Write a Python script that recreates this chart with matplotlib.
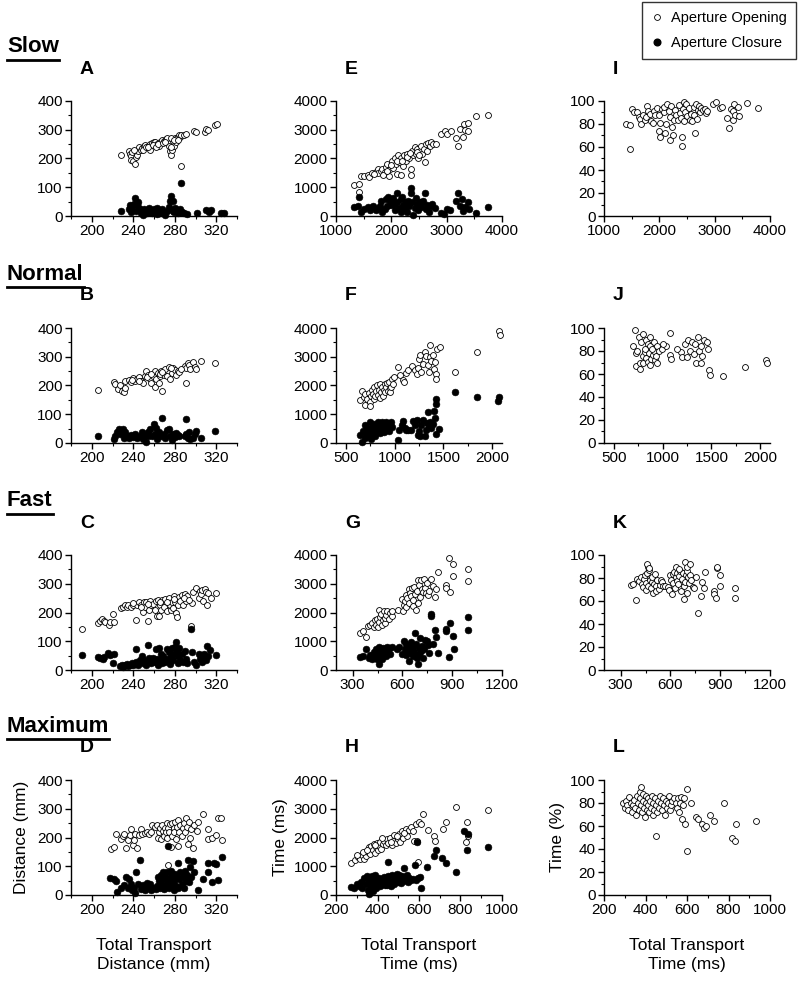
"""Aperture opening/closure vs total transport, four speed conditions."""

import matplotlib

matplotlib.use("Agg")
import matplotlib.pyplot as plt  # noqa: E402
import numpy as np  # noqa: E402
from matplotlib.lines import Line2D  # noqa: E402
from matplotlib.ticker import MultipleLocator  # noqa: E402

plt.rcParams["font.family"] = ["Liberation Sans", "DejaVu Sans"]

conditions = ["Slow", "Normal", "Fast", "Maximum"]
panel_letters = [["A", "B", "C", "D"], ["E", "F", "G", "H"], ["I", "J", "K", "L"]]

# ---- column 1: distance (mm) vs total transport distance (mm) ----
slow_dist_open = [
    (228, 213), (235.5, 227), (236.5, 217), (238, 208), (238, 196), (240, 192), (242, 182),
    (243, 206), (244, 213), (245, 225), (246, 240), (247, 230), (248, 238), (250, 244),
    (251, 247), (254, 244), (256, 249), (256, 230), (258, 254), (260, 259), (261, 257),
    (263, 251), (265, 244), (266, 259), (268, 266), (270, 262), (272, 268), (273, 270),
    (274, 244), (275, 225), (276, 211), (277, 228), (278, 261), (279, 244), (280, 272),
    (281, 259), (282, 270), (284, 280), (285, 276), (286, 174), (286, 283), (289, 280),
    (291, 285), (299, 295), (300, 293), (309, 292), (310, 304), (312, 298), (319, 316),
    (321, 320), (239, 222), (241, 228), (249, 230), (252, 240), (254, 240), (259, 247),
    (262, 241), (264, 252), (269, 254), (271, 259), (276, 270), (279, 263), (283, 263),
    (276, 241),
]
slow_dist_close = [
    (228, 19), (235.5, 24), (236.5, 38), (238, 14), (239, 31), (240.5, 43), (242, 62),
    (243, 19), (244, 43), (246, 29), (247, 10), (248, 14), (250, 24), (251.5, 10), (253, 17),
    (255, 29), (256.5, 19), (258, 10), (260, 24), (261, 14), (263, 29), (264.5, 10),
    (266, 19), (268, 24), (269, 14), (271, 5), (272.5, 19), (274, 33), (275, 53), (276, 69),
    (278, 53), (279, 14), (280, 29), (282, 19), (283.5, 10), (286, 115), (285, 24),
    (287, 14), (289, 10), (291.5, 8), (301.5, 10), (310.5, 21), (313, 14), (315, 21),
    (324.5, 11), (327, 10), (245, 48), (253, 10), (266, 10), (278, 19), (249, 5), (263, 8),
]
normal_dist_open = [
    (206.5, 184), (221, 212), (222.5, 206), (225, 188), (227, 200), (229, 181), (231, 176),
    (232.5, 193), (232.5, 216), (236, 219), (237.5, 212), (240, 226), (241.5, 215),
    (243.5, 222), (246, 229), (247.5, 216), (249, 209), (251, 233), (252.5, 252), (254, 238),
    (256, 224), (257.5, 209), (259, 233), (260.5, 252), (261, 195), (262, 224), (264, 243),
    (264.5, 209), (265.5, 233), (267, 252), (268, 181), (269.5, 238), (271, 257), (273, 233),
    (274, 266), (275, 224), (277, 245), (278.5, 262), (280, 255), (281.5, 238), (283, 252),
    (284.5, 247), (289.5, 269), (290.5, 207), (291, 262), (292.5, 279), (293.5, 273),
    (294.5, 257), (297.5, 283), (299.5, 266), (300.5, 259), (305.5, 286), (319, 278),
    (239, 219), (246, 216), (253, 228), (257, 240), (266, 241), (268, 247), (276, 260),
    (286, 257),
]
normal_dist_close = [
    (206.5, 24), (221, 14), (222.5, 26), (224, 38), (226, 48), (227.5, 33), (230, 50),
    (231, 19), (232.5, 38), (234, 24), (236, 16), (238, 29), (240, 22), (242, 33), (244, 19),
    (246.5, 26), (248, 38), (249.5, 14), (251, 29), (252, 3), (254, 24), (254.5, 38),
    (256.5, 48), (258, 26), (260, 67), (261, 31), (262, 52), (263, 14), (264.5, 38),
    (266.5, 24), (268, 88), (269.5, 31), (271, 16), (273, 45), (274, 50), (275, 24),
    (277, 10), (278.5, 33), (280, 22), (281.5, 35), (283, 29), (284.5, 26), (289.5, 24),
    (290.5, 83), (291, 33), (292.5, 19), (293.5, 38), (294.5, 14), (297.5, 16), (299.5, 33),
    (300.5, 43), (305.5, 19), (319, 40),
]
fast_dist_open = [
    (191, 141), (206, 165), (208, 170), (210, 179), (212, 172), (213, 168), (216.5, 158),
    (218, 168), (220, 194), (221, 168), (228, 216), (230.5, 218), (232, 225), (233.5, 220),
    (235, 225), (237.5, 220), (239.5, 227), (242.5, 174), (244, 225), (246, 235), (247, 227),
    (249, 201), (250, 237), (251.5, 220), (252.5, 237), (254, 170), (255, 208), (256.5, 240),
    (257, 225), (259, 230), (260.5, 208), (261.5, 240), (262.5, 189), (264, 243), (265, 189),
    (266, 227), (267, 208), (268, 244), (270, 220), (270.5, 246), (272.5, 206), (274, 252),
    (275, 225), (276, 208), (277, 237), (278, 217), (279.5, 259), (280, 235), (281, 198),
    (282, 185), (283.5, 225), (284, 254), (285.5, 239), (287, 262), (288, 227), (290, 265),
    (291, 239), (292, 259), (296, 153), (296.5, 233), (297.5, 273), (300.5, 284),
    (303.5, 252), (304.5, 276), (305, 265), (306, 278), (307, 239), (309, 281), (310, 273),
    (311, 227), (312, 268), (314.5, 249), (320, 268), (240, 232), (247, 220), (254, 230),
    (266, 237), (273, 237), (279, 246), (289, 249), (294, 244),
]
fast_dist_close = [
    (191, 51), (206, 45), (208, 43), (210.5, 38), (212, 45), (215.5, 60), (218, 53),
    (220, 26), (221.5, 55), (227.5, 14), (229, 19), (230.5, 12), (232, 16), (233.5, 22),
    (235, 14), (237, 19), (238.5, 24), (240, 16), (242.5, 72), (243, 29), (245, 19),
    (246.5, 35), (248, 48), (249, 24), (250.5, 34), (252.5, 19), (254, 86), (255, 43),
    (256, 29), (257, 24), (259, 43), (260.5, 29), (261.5, 72), (262.5, 38), (264, 19),
    (265, 77), (266, 34), (267, 55), (268, 24), (269, 48), (270.5, 29), (272.5, 72),
    (273, 38), (274, 62), (275, 22), (276, 48), (277, 77), (278, 34), (279.5, 55), (280, 81),
    (281, 99), (282, 62), (283, 24), (283.5, 48), (284, 77), (285.5, 34), (287, 55),
    (288, 29), (289.5, 67), (291, 38), (292, 24), (296, 141), (296.5, 62), (298.5, 29),
    (300.5, 19), (303.5, 55), (304.5, 38), (306, 29), (307, 45), (308.5, 57), (310, 35),
    (311, 83), (312, 48), (314, 70), (320, 51),
]
max_dist_open = [
    (218.5, 161), (221.7, 167), (223.7, 213), (228, 194), (230, 204), (231.5, 213),
    (233, 165), (234.7, 192), (236.6, 209), (238, 228), (240, 173), (240.5, 190), (242, 213),
    (243.8, 163), (245.4, 209), (247, 228), (248.6, 213), (251, 215), (252.9, 219),
    (255, 212), (256.8, 219), (258.4, 242), (260.6, 237), (262.6, 244), (263.9, 199),
    (264.9, 219), (265.8, 234), (266.5, 194), (268, 244), (269, 223), (269.7, 206),
    (270.4, 234), (271.3, 219), (272.3, 252), (273, 200), (273.6, 234), (274.6, 219),
    (275.6, 247), (276.2, 168), (276.9, 206), (277.8, 252), (278.8, 233), (279.5, 219),
    (280.1, 254), (281, 196), (282, 237), (282.7, 169), (283.3, 260), (284.3, 219),
    (285.3, 242), (286.6, 206), (287.6, 233), (288.5, 250), (289.8, 219), (290.8, 269),
    (291.8, 237), (293, 177), (294, 254), (295, 199), (295.7, 228), (297.3, 165), (299, 244),
    (301.5, 223), (302.8, 254), (307, 282), (311.9, 196), (312.5, 228), (315.8, 199),
    (320, 209), (321.6, 269), (325.5, 192), (325, 267), (273.6, 103),
]
max_dist_close = [
    (217.8, 58), (221, 55), (223.7, 50), (224.3, 10), (228, 26), (231.5, 36), (233, 64),
    (234.7, 23), (235.7, 55), (238, 40), (239, 16), (240.5, 26), (242, 7), (243, 79),
    (244.4, 38), (246.4, 122), (247.7, 21), (249.6, 36), (251, 16), (252.9, 42), (254.2, 31),
    (256.1, 38), (257.4, 16), (259.3, 26), (261.6, 21), (263.2, 33), (263.9, 64),
    (264.9, 50), (265.8, 26), (266.5, 69), (267.1, 40), (268, 55), (269, 79), (269.7, 21),
    (270.4, 64), (271.3, 36), (272.3, 79), (273, 50), (273.6, 170), (274.6, 26), (275.6, 60),
    (276.2, 84), (276.9, 40), (277.8, 69), (278.8, 16), (279.5, 50), (280.1, 74), (281, 33),
    (282, 64), (282.7, 112), (283.3, 26), (284.3, 55), (285.3, 79), (286.6, 40), (287.6, 64),
    (288.5, 26), (289.8, 84), (290.8, 50), (291.8, 69), (293, 122), (294, 45), (295, 98),
    (295.7, 64), (297.3, 117), (299, 79), (302.2, 19), (307, 55), (311.9, 79), (312.5, 110),
    (315.8, 45), (317.7, 110), (320, 108), (321.6, 52), (325.5, 132),
]

# ---- column 2: time (ms) vs total transport time (ms) ----
slow_time_open = [
    (1330, 1083), (1408, 1130), (1408, 843), (1450, 1389), (1510, 1389), (1570, 1418),
    (1600, 1341), (1642, 1485), (1720, 1533), (1750, 1648), (1762, 1485), (1810, 1581),
    (1840, 1648), (1882, 1533), (1900, 1705), (1930, 1801), (1960, 1389), (1978, 1629),
    (2020, 1916), (2038, 1677), (2062, 2012), (2080, 1801), (2110, 1456), (2122, 2107),
    (2140, 1868), (2170, 1418), (2182, 2012), (2218, 1725), (2230, 2107), (2260, 1916),
    (2290, 2155), (2320, 2012), (2350, 1629), (2362, 1437), (2380, 2251), (2398, 2107),
    (2422, 2395), (2440, 2155), (2470, 2347), (2482, 2012), (2518, 2251), (2542, 2443),
    (2560, 2155), (2590, 2347), (2608, 1868), (2620, 2510), (2650, 2251), (2662, 2539),
    (2698, 2443), (2722, 2587), (2758, 2491), (2800, 2510), (2902, 2845), (2968, 2970),
    (3010, 2855), (3070, 2941), (3160, 2730), (3208, 2443), (3250, 3018), (3292, 2759),
    (3310, 3209), (3340, 2989), (3382, 3228), (3388, 2970), (3532, 3477), (3742, 3516),
    (1678, 1456), (1858, 1418), (1918, 1581), (2002, 1772), (2098, 1916), (2200, 1916),
    (2278, 2060), (2338, 2203), (2458, 2232), (2500, 2107),
]
slow_time_close = [
    (1318, 307), (1402, 335), (1408, 651), (1450, 144), (1510, 240), (1570, 307),
    (1618, 192), (1660, 364), (1720, 192), (1750, 287), (1798, 364), (1840, 144), (1882, 240),
    (1918, 364), (1942, 671), (1978, 527), (2002, 383), (2038, 623), (2062, 192), (2098, 786),
    (2110, 479), (2140, 287), (2170, 144), (2182, 575), (2218, 383), (2242, 240), (2260, 479),
    (2290, 144), (2320, 335), (2350, 977), (2362, 814), (2380, 479), (2398, 48), (2422, 287),
    (2458, 431), (2482, 192), (2518, 479), (2542, 307), (2578, 527), (2608, 814), (2620, 240),
    (2650, 383), (2680, 144), (2710, 335), (2740, 431), (2782, 287), (2890, 115), (2950, 77),
    (3010, 240), (3058, 211), (3160, 527), (3208, 814), (3250, 335), (3280, 594), (3298, 163),
    (3340, 307), (3382, 498), (3400, 259), (3532, 115), (3742, 307), (1810, 527), (1900, 575),
    (2050, 431), (2200, 671), (2302, 527), (2440, 623), (2560, 479),
]
normal_time_open = [
    (645, 1495), (669, 1809), (685, 1590), (702, 1333), (702, 1714), (719, 1523), (736, 1752),
    (746, 1428), (753, 1285), (760, 1619), (770, 1857), (780, 1714), (786, 1523), (793, 1952),
    (803, 1619), (813, 1809), (820, 2000), (827, 1666), (837, 1857), (847, 1571), (854, 2066),
    (864, 1762), (871, 1952), (881, 1619), (888, 1857), (898, 2047), (904, 1762), (915, 1952),
    (921, 2095), (928, 1809), (938, 2123), (948, 1905), (955, 1762), (962, 1952), (972, 2218),
    (982, 2066), (995, 2304), (1032, 2647), (1056, 2380), (1083, 2190), (1096, 2123),
    (1117, 2428), (1140, 2542), (1174, 2666), (1208, 2542), (1225, 2409), (1241, 2619),
    (1251, 2923), (1265, 3046), (1275, 2476), (1292, 2733), (1309, 3180), (1319, 3018),
    (1343, 2714), (1353, 2476), (1366, 2999), (1376, 2857), (1393, 3075), (1400, 2571),
    (1410, 2828), (1420, 2409), (1427, 2237), (1437, 3256), (1622, 2476), (1848, 3170),
    (1360, 3400), (1460, 3330), (2070, 3880), (2078, 3760),
]
normal_time_close = [
    (645, 286), (669, 29), (679, 428), (692, 190), (702, 638), (712, 333), (719, 523),
    (736, 238), (746, 714), (753, 428), (760, 143), (770, 571), (780, 333), (786, 666),
    (793, 476), (803, 238), (813, 619), (820, 381), (827, 733), (837, 523), (847, 333),
    (854, 638), (864, 447), (871, 733), (881, 571), (888, 381), (898, 666), (904, 523),
    (915, 733), (928, 600), (938, 428), (948, 666), (962, 733), (972, 571), (1032, 114),
    (1049, 447), (1073, 638), (1090, 762), (1107, 523), (1117, 447), (1140, 447),
    (1164, 447), (1191, 762), (1208, 619), (1225, 809), (1241, 286), (1251, 409), (1265, 257),
    (1275, 638), (1292, 790), (1309, 257), (1319, 447), (1332, 695), (1343, 1076), (1353, 571),
    (1366, 733), (1376, 523), (1393, 666), (1403, 1114), (1410, 885), (1420, 1514), (1420, 314),
    (1427, 1361), (1454, 504), (1622, 1761), (1848, 1600), (2060, 1457), (2073, 1609),
]
fast_time_open = [
    (345, 1293), (361, 1341), (382, 1150), (392, 1533), (406, 1561), (416, 1629), (426, 1504),
    (433, 1724), (441, 1581), (447, 1791), (453, 1485), (457, 1676), (461, 2079), (467, 1849),
    (473, 1964), (477, 1561), (482, 1753), (488, 2041), (494, 1629), (498, 1820), (502, 1916),
    (508, 2060), (518, 1772), (528, 1983), (535, 1868), (539, 2060), (575, 2079), (600, 2462),
    (604, 2041), (610, 2251), (616, 2395), (620, 2615), (624, 2174), (630, 2500), (637, 2826),
    (641, 2328), (645, 2682), (651, 2558), (657, 2845), (661, 2443), (665, 2232), (671, 2902),
    (677, 2634), (681, 2079), (686, 2749), (692, 3133), (694, 2347), (702, 2970), (706, 2539),
    (712, 3114), (718, 2826), (726, 2711), (732, 3162), (739, 2845), (743, 2682), (749, 3018),
    (753, 2615), (759, 2749), (773, 3162), (783, 2921), (794, 2539), (804, 2826), (814, 3411),
    (865, 2940), (865, 2845), (886, 2730), (906, 3257), (998, 3516), (998, 3094), (880, 3880),
    (905, 3680),
]
fast_time_close = [
    (345, 450), (365, 479), (382, 747), (396, 431), (406, 527), (416, 383), (426, 623),
    (433, 508), (441, 719), (447, 383), (453, 575), (457, 220), (461, 814), (467, 527),
    (473, 671), (477, 383), (482, 767), (488, 546), (494, 719), (502, 479), (508, 814),
    (514, 623), (522, 767), (528, 546), (539, 795), (569, 738), (582, 814), (600, 546),
    (610, 1006), (616, 719), (620, 527), (624, 910), (630, 642), (637, 307), (641, 795),
    (645, 575), (651, 958), (657, 719), (661, 479), (665, 814), (671, 623), (677, 1293),
    (681, 910), (686, 431), (692, 220), (698, 767), (702, 546), (706, 1121), (712, 671),
    (718, 834), (726, 431), (732, 719), (739, 1054), (747, 1006), (753, 862), (759, 575),
    (773, 1945), (773, 1887), (783, 910), (794, 1389), (804, 1150), (814, 604), (865, 1437),
    (865, 1341), (881, 450), (886, 1629), (906, 1198), (910, 738), (998, 1839), (998, 1389),
]
max_time_open = [
    (274, 1125), (291, 1221), (304, 1317), (315, 1269), (327, 1385), (337, 1250), (343, 1365),
    (353, 1481), (360, 1654), (365, 1413), (370, 1702), (376, 1558), (381, 1769), (386, 1462),
    (393, 1654), (398, 1798), (403, 1558), (409, 1702), (414, 1846), (419, 1606), (426, 1769),
    (431, 1894), (439, 1731), (447, 1942), (452, 1798), (459, 1990), (469, 1731), (475, 1894),
    (480, 2086), (489, 1798), (497, 1962), (505, 2134), (508, 1846), (518, 2230), (525, 1990),
    (535, 2307), (541, 2057), (551, 2278), (563, 2375), (571, 2230), (574, 1894), (584, 2471),
    (591, 1894), (601, 2538), (596, 1154), (608, 2471), (617, 2827), (645, 2250), (673, 2038),
    (678, 1894), (716, 2307), (728, 2538), (777, 3077), (827, 1846), (832, 2538), (838, 2038),
    (934, 2952), (299, 1385), (332, 1510), (348, 1577), (390, 1731), (422, 1990), (464, 1846),
    (493, 2038), (530, 2153),
]
max_time_close = [
    (274, 288), (287, 231), (299, 385), (310, 308), (320, 452), (327, 260), (337, 596),
    (343, 385), (348, 644), (353, 163), (357, 481), (360, 38), (365, 577), (370, 308),
    (373, 644), (376, 135), (381, 500), (386, 356), (390, 692), (393, 260), (398, 548),
    (403, 404), (409, 596), (414, 308), (419, 481), (426, 385), (431, 615), (436, 356),
    (442, 529), (447, 337), (452, 644), (459, 452), (464, 308), (449, 1154), (469, 692),
    (475, 481), (480, 385), (485, 615), (493, 740), (497, 452), (502, 692), (505, 548),
    (513, 423), (518, 644), (525, 500), (530, 933), (535, 577), (541, 692), (546, 452),
    (554, 596), (563, 519), (571, 548), (579, 1058), (584, 519), (591, 1846), (596, 577),
    (604, 615), (612, 260), (640, 981), (673, 1346), (683, 1558), (711, 1288), (728, 1096),
    (777, 788), (815, 2230), (832, 1577), (838, 2134), (934, 1673),
]

# ---- column 3: opening time (% of transport) vs total transport time (ms) ----
slow_pct = [
    (1390, 79.6), (1462, 78.7), (1510, 92.8), (1540, 90), (1468, 58), (1600, 90), (1630, 86.3),
    (1648, 84.7), (1672, 79.9), (1708, 87.5), (1732, 83.2), (1768, 86.3), (1780, 95.9),
    (1792, 91), (1828, 88.7), (1852, 82.7), (1888, 80.8), (1912, 91), (1930, 87.5),
    (1960, 93.5), (1990, 87.5), (2002, 73.6), (2020, 80.8), (2020, 68.8), (2050, 92.8),
    (2080, 90), (2092, 95.2), (2110, 71.9), (2128, 80.3), (2140, 97.6), (2170, 91),
    (2188, 66.4), (2200, 86.3), (2212, 95.9), (2230, 77.5), (2242, 70.7), (2260, 83.9),
    (2290, 92), (2308, 87.5), (2332, 83.2), (2350, 96.6), (2368, 89.4), (2392, 85.1),
    (2410, 68.8), (2416, 61.2), (2428, 92.8), (2440, 99.5), (2452, 82.3), (2470, 90.4),
    (2488, 97.6), (2500, 87), (2530, 93.5), (2548, 83.9), (2572, 88.7), (2590, 82.3),
    (2620, 94.7), (2632, 88), (2650, 71.9), (2668, 97.6), (2680, 84.7), (2692, 92.3),
    (2710, 95.9), (2728, 90.4), (2752, 94.2), (2788, 92.3), (2830, 92.8), (2848, 89.4),
    (2860, 91), (2968, 97.8), (3028, 99.5), (3088, 93.5), (3130, 95.2), (3220, 85.6),
    (3250, 76.7), (3292, 92.8), (3328, 91), (3340, 83.9), (3352, 97.6), (3370, 87.5),
    (3430, 95.2), (3448, 87), (3580, 98.3), (3790, 94),
]
normal_pct = [
    (730, 78.3), (730, 67), (771, 64), (771, 70), (803, 76), (803, 70), (819, 78.8), (835, 74),
    (851, 70.6), (857, 78.3), (876, 67.5), (883, 73), (899, 76.5), (915, 80), (921, 71.8),
    (931, 75.3), (947, 69.4), (1075, 76.5), (1091, 73), (1193, 78.8), (1203, 74.6),
    (1251, 74.6), (1283, 80), (1321, 77.6), (1343, 69.4), (1369, 80), (1395, 69.4), (1402, 76),
    (1480, 63.5), (1490, 59), (1622, 58), (1848, 65.9), (2060, 72.2), (2073, 69.4),
    (720, 98), (760, 92), (780, 88), (800, 95), (830, 90), (850, 86), (870, 84), (890, 82),
    (910, 88), (940, 84), (960, 80), (990, 82), (1040, 84), (1080, 96), (1150, 82),
    (1230, 86), (1260, 90), (1300, 88), (1330, 86), (1360, 92), (1390, 84), (1420, 90),
    (1450, 88), (1470, 82), (700, 84), (740, 80), (820, 82), (870, 92), (1000, 86),
]
fast_pct = [
    (361, 73.7), (375, 74.9), (395, 60.5), (401, 79.3), (411, 77.6), (422, 80.5), (428, 75.2),
    (435, 72.1), (441, 79.3), (448, 82.4), (452, 69.7), (455, 75.7), (462, 84.1), (468, 73.3),
    (472, 87.2), (475, 78.6), (482, 71.3), (488, 76.6), (492, 80.9), (496, 67.3), (502, 75.2),
    (508, 83.3), (512, 72.8), (516, 68.9), (522, 78.1), (532, 70.4), (538, 73.7), (542, 78.6),
    (549, 76.1), (557, 72.8), (468, 90), (568, 73.3), (588, 72.6), (594, 69.7), (598, 82.4),
    (602, 78.6), (608, 66.5), (614, 75.7), (618, 83.1), (622, 84.8), (628, 71.3), (632, 90),
    (634, 80.5), (638, 77.6), (642, 84.1), (648, 74.5), (654, 81.4), (658, 85.8), (663, 68.9),
    (669, 79.3), (675, 84.1), (679, 61.7), (683, 73.3), (689, 76.9), (695, 82.9), (699, 67.3),
    (703, 86.5), (709, 80.5), (715, 75.7), (719, 82.4), (723, 78.1), (735, 72.1), (743, 71.3),
    (755, 80.5), (769, 49.2), (783, 64.1), (789, 76.9), (800, 71.3), (810, 85.3), (861, 68.5),
    (861, 66.1), (877, 62.5), (881, 88.9), (901, 82.9), (901, 72.8), (992, 71.3), (992, 62.5),
    (460, 92), (470, 89), (690, 94), (700, 90), (720, 92), (650, 88), (880, 90),
]
max_pct = [
    (290, 80), (300, 76), (305, 82), (310, 78), (318, 74), (322, 85), (328, 80), (335, 72),
    (340, 78), (345, 83), (350, 76), (355, 70), (360, 86), (365, 80), (368, 74), (372, 90),
    (375, 84), (378, 78), (380, 94), (383, 72), (386, 88), (390, 82), (393, 76), (397, 68),
    (400, 86), (403, 80), (407, 74), (410, 84), (414, 78), (418, 72), (422, 82), (426, 76),
    (430, 86), (434, 70), (438, 80), (442, 74), (446, 84), (450, 78), (450, 51), (455, 72),
    (460, 82), (465, 76), (470, 86), (475, 80), (480, 74), (485, 84), (490, 78), (495, 70),
    (500, 82), (505, 76), (510, 80), (515, 86), (520, 74), (525, 78), (530, 82), (538, 84),
    (545, 80), (550, 76), (555, 84), (560, 72), (565, 80), (570, 85), (575, 66), (580, 78),
    (585, 84), (590, 62), (600, 92), (600, 38), (620, 80), (645, 68), (655, 66), (673, 62),
    (683, 58), (690, 60), (711, 70), (728, 64), (777, 80), (815, 50), (832, 47), (838, 62),
    (934, 64),
]

dist_open = [slow_dist_open, normal_dist_open, fast_dist_open, max_dist_open]
dist_close = [slow_dist_close, normal_dist_close, fast_dist_close, max_dist_close]
time_open = [slow_time_open, normal_time_open, fast_time_open, max_time_open]
time_close = [slow_time_close, normal_time_close, fast_time_close, max_time_close]
pct_open = [slow_pct, normal_pct, fast_pct, max_pct]

# axis ranges per row for the time columns
time_xlims = [(1000, 4000), (400, 2100), (200, 1200), (200, 1000)]
time_xticks = [(1000, 500), (500, 250), (300, 150), (200, 100)]

W, H = 800, 983
fig = plt.figure(figsize=(W / 100, H / 100), dpi=100)

col_left = [71, 336, 604]
row_top = [101, 328, 555, 780]
ax_w, ax_h = 166, 115


def style_axes(ax):
    for side in ("top", "right"):
        ax.spines[side].set_visible(False)
    for side in ("left", "bottom"):
        ax.spines[side].set_linewidth(1.0)
    ax.tick_params(which="major", direction="out", length=4, width=1, labelsize=11, pad=2)
    ax.tick_params(which="minor", direction="out", length=2.5, width=0.8)


def scatter_open(ax, pts):
    arr = np.array(pts, dtype=float)
    ax.scatter(arr[:, 0], arr[:, 1], s=18, facecolors="white", edgecolors="black",
               linewidths=0.6, zorder=3, clip_on=False)


def scatter_closed(ax, pts):
    arr = np.array(pts, dtype=float)
    ax.scatter(arr[:, 0], arr[:, 1], s=24, facecolors="black", edgecolors="black",
               linewidths=0.4, zorder=4, clip_on=False)


title_texts = []
for r in range(4):
    top = row_top[r]
    axes_row = []
    for c in range(3):
        rect = [col_left[c] / W, 1 - (top + ax_h) / H, ax_w / W, ax_h / H]
        ax = fig.add_axes(rect)
        style_axes(ax)
        if c == 0:
            scatter_open(ax, dist_open[r])
            scatter_closed(ax, dist_close[r])
            ax.set_xlim(180, 340)
            ax.set_ylim(0, 400)
            ax.set_xticks([200, 240, 280, 320])
            ax.xaxis.set_minor_locator(MultipleLocator(20))
            ax.yaxis.set_major_locator(MultipleLocator(100))
            ax.yaxis.set_minor_locator(MultipleLocator(50))
        elif c == 1:
            scatter_closed(ax, time_close[r])
            scatter_open(ax, time_open[r])
            ax.set_xlim(*time_xlims[r])
            ax.set_ylim(0, 4000)
            ax.xaxis.set_major_locator(MultipleLocator(time_xticks[r][0]))
            ax.xaxis.set_minor_locator(MultipleLocator(time_xticks[r][1]))
            ax.yaxis.set_major_locator(MultipleLocator(1000))
            ax.yaxis.set_minor_locator(MultipleLocator(500))
        else:
            scatter_open(ax, pct_open[r])
            ax.set_xlim(*time_xlims[r])
            ax.set_ylim(0, 100)
            ax.xaxis.set_major_locator(MultipleLocator(time_xticks[r][0]))
            ax.xaxis.set_minor_locator(MultipleLocator(time_xticks[r][1]))
            ax.yaxis.set_major_locator(MultipleLocator(20))
            ax.yaxis.set_minor_locator(MultipleLocator(10))
        fig.text((col_left[c] + 9) / W, 1 - (top - 32) / H, panel_letters[c][r],
                 ha="left", va="center", fontsize=14, fontweight="bold")
        axes_row.append(ax)

    t = fig.text(7 / W, 1 - (top - 54) / H, conditions[r], ha="left", va="center",
                 fontsize=16, fontweight="bold")
    title_texts.append(t)

    if r == 3:
        axes_row[0].set_ylabel("Distance (mm)", fontsize=12.5, labelpad=6)
        axes_row[1].set_ylabel("Time (ms)", fontsize=12.5, labelpad=4)
        axes_row[2].set_ylabel("Time (%)", fontsize=12.5, labelpad=4)
        xlabels = ["Total Transport\nDistance (mm)", "Total Transport\nTime (ms)",
                   "Total Transport\nTime (ms)"]
        for ax_, lab in zip(axes_row, xlabels):
            ax_.set_xlabel(lab, fontsize=12.5, labelpad=15, linespacing=1.35)

handles = [
    Line2D([], [], ls="none", marker="o", markersize=4.2, markerfacecolor="white",
           markeredgecolor="black", markeredgewidth=0.6, label="Aperture Opening"),
    Line2D([], [], ls="none", marker="o", markersize=4.8, markerfacecolor="black",
           markeredgecolor="black", label="Aperture Closure"),
]
leg = fig.legend(handles=handles, loc="upper right", bbox_to_anchor=(796 / W, 1 - 2 / H),
                 borderaxespad=0, fontsize=10.5, frameon=True, fancybox=False,
                 edgecolor="black", handlelength=0.8, handletextpad=0.6, borderpad=0.6,
                 labelspacing=0.8)
leg.get_frame().set_linewidth(1.0)

# underline the condition headings
fig.canvas.draw()
renderer = fig.canvas.get_renderer()
for t in title_texts:
    bb = t.get_window_extent(renderer)
    y = (bb.y0 - 2) / H
    fig.add_artist(Line2D([bb.x0 / W, bb.x1 / W], [y, y], color="black", lw=2,
                          transform=fig.transFigure))

fig.savefig("out.png", dpi=100)
plt.close(fig)
